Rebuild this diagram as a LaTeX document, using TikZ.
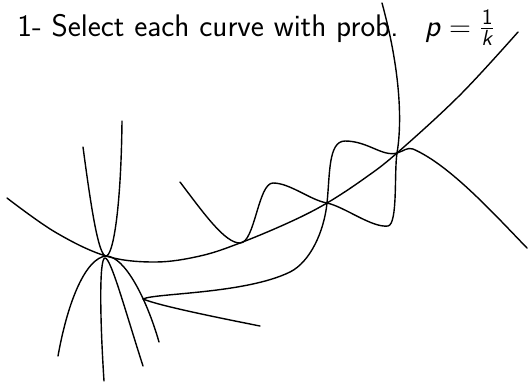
\documentclass[tikz,border=0pt]{standalone}
\usepackage{amsmath}
\usepackage{fontspec}
\begin{document}
\begin{tikzpicture}[x=0.5pt,y=-0.5pt,
  curve/.style={line width=0.7pt, line join=round, line cap=round},
  titletext/.style={anchor=base west, inner sep=0pt, font=\sffamily\fontsize{15.6}{18}\selectfont}]
\useasboundingbox (0,0) rectangle (528,382);
\coordinate (n1) at (106,256);
\coordinate (n2) at (327,203);
\coordinate (n3) at (397,153);
\coordinate (c) at (143,299);

\node[titletext] (title) at (17,36) {1- Select each curve with prob.\hspace{0.85em}$\textsf{\textit{p}} = \frac{\textsf{1}}{\textsf{\textit{k}}}$};

% main curve
\draw[curve] plot[smooth, tension=0.6] coordinates {(7,198) (55,232) (n1) (155,262) (200,256) (240,243) (290,222) (n2) (365,178) (n3) (460,95) (518,32)};

% U
\draw[curve] (83,147) .. controls (92,215) and (99,256) .. (n1) .. controls (113,256) and (121,210) .. (122,121);
% wide cap
\draw[curve] (58,356) .. controls (68,300) and (86,258) .. (n1) .. controls (125,256) and (147,300) .. (159,342);
% narrow cap
\draw[curve] (104,381) .. controls (100,320) and (99,258) .. (105,258) .. controls (111,258) and (125,310) .. (143,366);

% wavy curve T
\draw[curve] (180,182) .. controls (205,215) and (225,243) .. (240,243) .. controls (255,243) and (258,183) .. (273,183) .. controls (290,183) and (310,200) .. (n2) .. controls (345,207) and (372,228) .. (388,226) .. controls (398,224) and (394,172) .. (n3) .. controls (401,130) and (403,80) .. (382,3);

% curve S with cusp
\draw[curve] (260,326) .. controls (220,318) and (160,306) .. (c) .. controls (155,293) and (245,294) .. (290,272) .. controls (310,262) and (324,232) .. (n2) .. controls (330,175) and (328,141) .. (345,141) .. controls (368,141) and (382,157) .. (n3) .. controls (404,151) and (407,147) .. (413,149) .. controls (450,165) and (495,215) .. (527,248);
\end{tikzpicture}
\end{document}
